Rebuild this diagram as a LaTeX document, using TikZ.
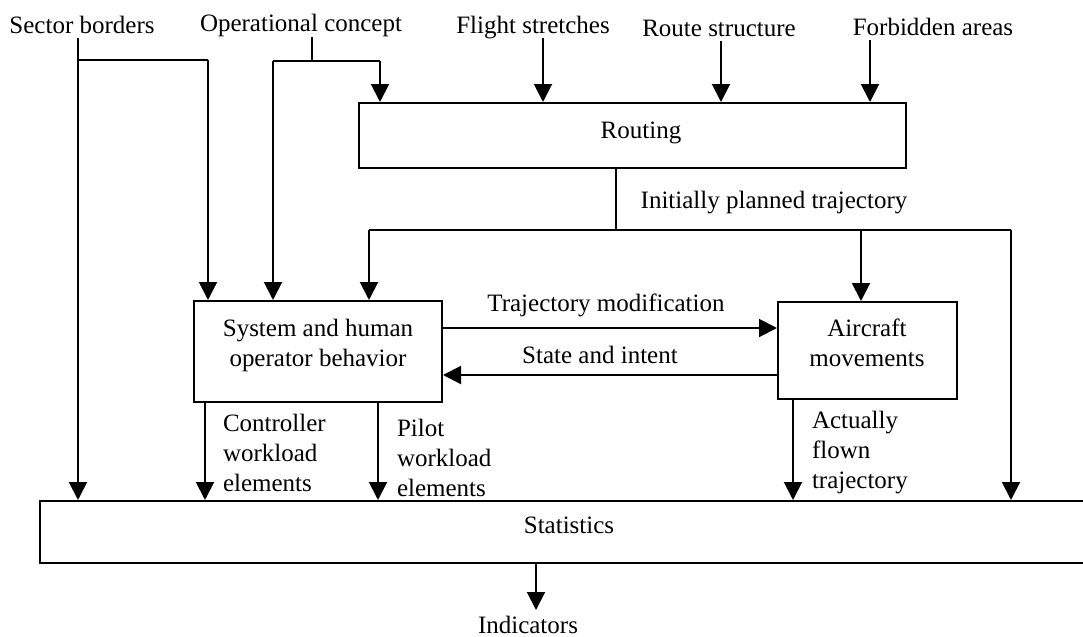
\documentclass[tikz,border=0pt]{standalone}
\usepackage{fontspec}
\setmainfont{Liberation Serif}
\usetikzlibrary{arrows.meta}
\begin{document}
\begin{tikzpicture}[x=0.5pt,y=-0.5pt, line width=1pt,
  txt/.style={font=\fontsize{12.5}{15}\selectfont, inner sep=0pt},
  inp/.style={txt, anchor=base, text depth=2pt},
  lbl/.style={txt, anchor=base},
  mlbl/.style={txt, anchor=north west, align=left},
  btxt/.style={txt, anchor=north, align=center},
  box/.style={draw, inner sep=0pt},
  arr/.style={-{Triangle[length=9pt,width=9pt]}}
]
\useasboundingbox (0,0) rectangle (1083,637);

% input texts
\node[inp] (sb) at (82,33) {Sector borders};
\node[inp] (oc) at (301,32) {Operational concept};
\node[inp] (fs) at (533,33) {Flight stretches};
\node[inp] (rs) at (719,36) {Route structure};
\node[inp] (fa) at (933,35) {Forbidden areas};

% boxes
\node[box, minimum width=273.5pt, minimum height=32.5pt] (rt) at (632.5,135.5) {};
\node[lbl] (rtt) at (641,138) {Routing};
\node[box, minimum width=124pt, minimum height=50.5pt] (sys) at (318,351.5) {};
\node[btxt] (syst) at (318,318) {System and human\\operator behavior};
\node[box, minimum width=89.5pt, minimum height=48.5pt] (air) at (867.5,350.5) {};
\node[btxt] (airt) at (867,318) {Aircraft\\movements};
\node[box, minimum width=530pt, minimum height=31pt] (stat) at (570,532) {};
\node[lbl] (statt) at (569,533) {Statistics};
\node[lbl, text height=11pt] (ind) at (528,633) {Indicators};

% labels
\node[lbl] (lip) at (774,208) {Initially planned trajectory};
\node[lbl] (ltm) at (606,311) {Trajectory modification};
\node[lbl] (lsi) at (600,363) {State and intent};
\node[mlbl] (lcw) at (222,413) {Controller\\workload\\elements};
\node[mlbl] (lpw) at (396,418) {Pilot\\workload\\elements};
\node[mlbl] (laf) at (811,410) {Actually\\flown\\trajectory};

% sector borders
\coordinate (a78) at (78,60);
\coordinate (a208) at (208,60);
\draw[arr] (sb.south -| a78) -- (stat.north -| a78);
\draw (a78) -- (a208);
\draw[arr] (a208) -- (sys.north -| a208);

% operational concept
\coordinate (o312) at (312,61);
\coordinate (o273) at (273,61);
\coordinate (o380) at (380,61);
\draw (oc.south -| o312) -- (o312);
\draw (o273) -- (o380);
\draw[arr] (o273) -- (sys.north -| o273);
\draw[arr] (o380) -- (rt.north -| o380);

% other inputs
\coordinate (c543) at (543,0);
\coordinate (c721) at (721,0);
\coordinate (c870) at (870,0);
\draw[arr] (fs.south -| c543) -- (rt.north -| c543);
\draw[arr] (rs.south -| c721) -- (rt.north -| c721);
\draw[arr] (fa.south -| c870) -- (rt.north -| c870);

% routing output
\coordinate (r616) at (616,230);
\coordinate (r369) at (369,230);
\coordinate (r861) at (861,230);
\coordinate (r1011) at (1011,230);
\draw (rt.south -| r616) -- (r616);
\draw (r369) -- (r1011);
\draw[arr] (r369) -- (sys.north -| r369);
\draw[arr] (r861) -- (air.north -| r861);
\draw[arr] (r1011) -- (stat.north -| r1011);

% middle
\coordinate (m1) at (0,328);
\coordinate (m2) at (0,375);
\draw[arr] (sys.east |- m1) -- (air.west |- m1);
\draw[arr] (air.west |- m2) -- (sys.east |- m2);

% down to statistics
\coordinate (d205) at (205,0);
\coordinate (d378) at (378,0);
\coordinate (d793) at (793,0);
\draw[arr] (sys.south -| d205) -- (stat.north -| d205);
\draw[arr] (sys.south -| d378) -- (stat.north -| d378);
\draw[arr] (air.south -| d793) -- (stat.north -| d793);

% indicators
\coordinate (i536) at (536,0);
\draw[arr] (stat.south -| i536) -- (ind.north -| i536);
\end{tikzpicture}
\end{document}
